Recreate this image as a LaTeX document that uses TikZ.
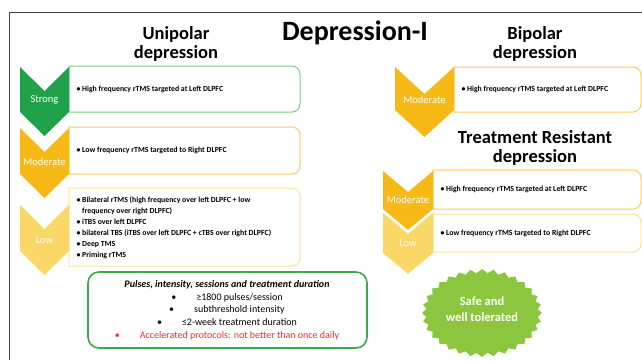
\documentclass[tikz,border=0pt]{standalone}
\usepackage{fontspec}
\setmainfont{Carlito}

\definecolor{frame}{HTML}{404040}
\definecolor{strongfill}{HTML}{20A24B}
\definecolor{strongline}{HTML}{7CCB84}
\definecolor{modfill}{HTML}{F6B915}
\definecolor{modline}{HTML}{F8CD5E}
\definecolor{lowfill}{HTML}{F9D868}
\definecolor{lowline}{HTML}{FBE29A}
\definecolor{pulseline}{HTML}{3AAA4C}
\definecolor{safefill}{HTML}{8CC63F}
\definecolor{redtxt}{HTML}{FF2A2A}

\begin{document}
\begin{tikzpicture}[x=1pt,y=-1pt,
  heading/.style={font=\fontsize{18.5}{18.5}\selectfont\bfseries,align=center},
  grade/.style={font=\fontsize{10.5}{12}\selectfont,text=white},
  boxtext/.style={font=\fontsize{7.8}{11}\selectfont\bfseries,anchor=west,align=left},
  pulsetext/.style={font=\fontsize{10}{12.7}\selectfont,align=center}]
\useasboundingbox (0,0) rectangle (642,360);
%\draw[step=20,gray,very thin] (0,0) grid (642,360); %background grid

% frame
\draw[frame,line width=1pt] (642,12) -- (9,12) -- (9,360);

% titles
\node[font=\fontsize{28}{30}\selectfont\bfseries] (title) at (355,33) {Depression-I};
\node[heading] (unipolar) at (176,44) {Unipolar\\depression};
\node[heading] (bipolar) at (535,44) {Bipolar\\depression};
\node[heading] (resistant) at (535,148) {Treatment Resistant\\depression};

% unipolar boxes
\draw[strongline,line width=1pt] (69,66) [rounded corners=8] -- (300,66) -- (300,112) [sharp corners] -- (69,112) -- cycle;
\draw[modline,line width=1pt] (69,127) [rounded corners=8] -- (300,127) -- (300,174) [sharp corners] -- (69,174) -- cycle;
\draw[lowline,line width=1pt] (69,188) [rounded corners=8] -- (300,188) -- (300,266) [sharp corners] -- (69,266) -- cycle;

% unipolar chevrons
\fill[strongfill] (20,67) -- (44.5,91) -- (69,67) -- (69,112) -- (44.5,136) -- (20,112) -- cycle;
\fill[modfill] (20,128) -- (44.5,152) -- (69,128) -- (69,174) -- (44.5,198) -- (20,174) -- cycle;
\fill[lowfill] (20,205) -- (44.5,229) -- (69,205) -- (69,251) -- (44.5,275) -- (20,251) -- cycle;

\node[grade] (strong) at (44.5,100) {Strong};
\node[grade] (umod) at (44.5,162) {Moderate};
\node[grade] (ulow) at (44.5,240) {Low};

\node[boxtext] (utxt1) at (73,89) {\textbullet\ High frequency rTMS targeted at Left DLPFC};
\node[boxtext] (utxt2) at (73,150) {\textbullet\ Low frequency rTMS targeted to Right DLPFC};
\node[boxtext,anchor=north west] (utxt3) at (73,193) {\textbullet\ Bilateral rTMS (high frequency over left DLPFC + low\\
  \hphantom{\textbullet\ }frequency over right DLPFC)\\
  \textbullet\ iTBS over left DLPFC\\
  \textbullet\ bilateral TBS (iTBS over left DLPFC + cTBS over right DLPFC)\\
  \textbullet\ Deep TMS\\
  \textbullet\ Priming rTMS};

% bipolar
\draw[modline,line width=1pt] (454,67) [rounded corners=8] -- (641,67) -- (641,112) [sharp corners] -- (454,112) -- cycle;
\fill[modfill] (395,67) -- (424.5,94) -- (454,67) -- (454,110) -- (424.5,137) -- (395,110) -- cycle;
\node[grade] (bmod) at (424.5,100) {Moderate};
\node[boxtext] (btxt) at (458,89) {\textbullet\ High frequency rTMS targeted at Left DLPFC};

% treatment resistant
\draw[modline,line width=1pt] (433,170) [rounded corners=8] -- (641,170) -- (641,209) [sharp corners] -- (433,209) -- cycle;
\draw[lowline,line width=1pt] (433,214) [rounded corners=8] -- (641,214) -- (641,252) [sharp corners] -- (433,252) -- cycle;
\fill[modfill] (383,171) -- (408,192) -- (433,171) -- (433,209) -- (408,230) -- (383,209) -- cycle;
\fill[lowfill] (383,213) -- (408,234) -- (433,213) -- (433,253) -- (408,274) -- (383,253) -- cycle;
\node[grade] (tmod) at (408,200) {Moderate};
\node[grade] (tlow) at (408,243) {Low};
\node[boxtext] (ttxt1) at (437,189) {\textbullet\ High frequency rTMS targeted at Left DLPFC};
\node[boxtext] (ttxt2) at (437,233) {\textbullet\ Low frequency rTMS targeted to Right DLPFC};

% pulses box
\draw[pulseline,line width=1.6pt,rounded corners=11] (88,272) rectangle (367,348);
\node[pulsetext] (pulses) at (227,310) {\textbf{\textit{Pulses, intensity, sessions and treatment duration}}\\
  \textbullet\qquad ≥1800 pulses/session\\
  \textbullet\qquad subthreshold intensity\\
  \textbullet\qquad ≤2-week treatment duration\\
  \color{redtxt}\textbullet\qquad Accelerated protocols: not better than once daily};

% safe burst
\fill[safefill,shift={(482,313)}] (60,0) \foreach \i in {1,...,63} { -- ({cos(\i*5.625)*(60-4*mod(\i,2))},{sin(\i*5.625)*(44-4*mod(\i,2))}) } -- cycle;
\node[font=\fontsize{12.5}{15.5}\selectfont\bfseries,text=white,align=center] (safe) at (482,309) {Safe and\\well tolerated};

\end{tikzpicture}
\end{document}
